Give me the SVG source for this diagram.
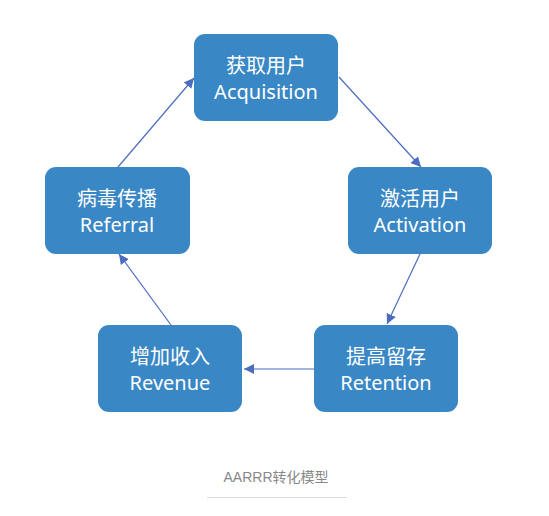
<svg xmlns="http://www.w3.org/2000/svg" width="549" height="516" viewBox="0 0 549 516">
<style>
.box{fill:#3a87c5}
.t{fill:#fff;font-family:"Noto Sans","Noto Sans CJK SC",sans-serif;font-size:20px;text-anchor:middle}
.c{stroke:#4b6cc0;stroke-width:1.2;fill:none;marker-end:url(#ah)}
.cap{fill:#888;font-family:"Liberation Sans","Noto Sans CJK SC",sans-serif;font-size:14px;text-anchor:middle}
</style>
<defs>
<marker id="ah" viewBox="0 0 10 10" refX="10" refY="5" markerWidth="10" markerHeight="10" markerUnits="userSpaceOnUse" orient="auto">
<path d="M0,0 L10,5 L0,10 z" fill="#4b6cc0"/>
</marker>
</defs>
<rect width="549" height="516" fill="#fff"/>
<g id="connectors">
<line class="c" x1="339" y1="77" x2="421" y2="167"/>
<line class="c" x1="420" y1="254" x2="387" y2="324"/>
<line class="c" x1="314" y1="369" x2="244" y2="369"/>
<line class="c" x1="171" y1="325" x2="119" y2="254"/>
<line class="c" x1="118" y1="167" x2="194" y2="78"/>
</g>
<g id="acquisition">
<rect class="box" x="194" y="34" width="144" height="87" rx="11"/>
<text class="t" x="266" y="73">获取用户</text>
<text class="t" x="266" y="99">Acquisition</text>
</g>
<g id="activation">
<rect class="box" x="348" y="167" width="144" height="87" rx="11"/>
<text class="t" x="420" y="206">激活用户</text>
<text class="t" x="420" y="232">Activation</text>
</g>
<g id="retention">
<rect class="box" x="314" y="325" width="144" height="87" rx="11"/>
<text class="t" x="386" y="364">提高留存</text>
<text class="t" x="386" y="390">Retention</text>
</g>
<g id="revenue">
<rect class="box" x="98" y="325" width="144" height="87" rx="11"/>
<text class="t" x="170" y="364">增加收入</text>
<text class="t" x="170" y="390">Revenue</text>
</g>
<g id="referral">
<rect class="box" x="45" y="167" width="145" height="87" rx="11"/>
<text class="t" x="117" y="206">病毒传播</text>
<text class="t" x="117" y="232">Referral</text>
</g>
<g id="caption">
<text class="cap" x="276" y="482">AARRR转化模型</text>
<line x1="207" y1="497.5" x2="347" y2="497.5" stroke="#ddd" stroke-width="1"/>
</g>
</svg>
